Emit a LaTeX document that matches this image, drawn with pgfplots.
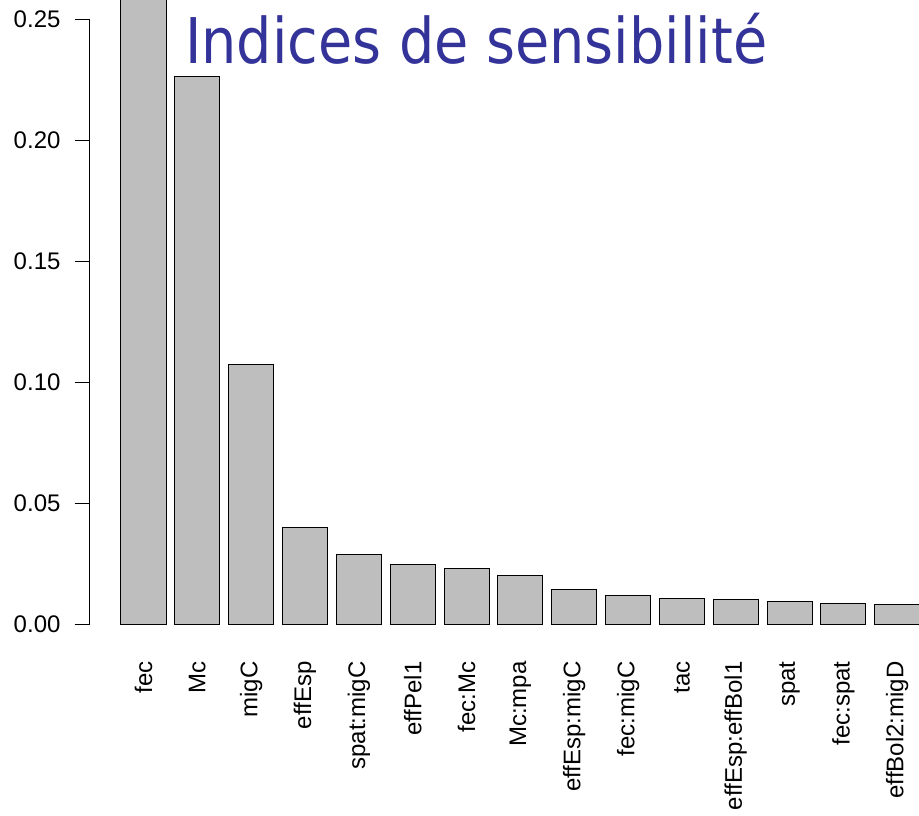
\documentclass[border=0pt]{standalone}
\usepackage{graphicx}
\usepackage{pgfplots}
\pgfplotsset{compat=1.18}
\usepackage{fontspec}
\setmainfont{Liberation Sans}
\newfontfamily\titlefont{DejaVu Sans}
\definecolor{titleblue}{HTML}{333399}
\definecolor{bargray}{HTML}{BEBEBE}
\begin{document}
\begin{tikzpicture}[x=1pt,y=1pt]
\useasboundingbox (0,0) rectangle (919,815);
\begin{axis}[
  at={(89.66pt,190.7pt)}, anchor=south west,
  scale only axis, width=861.44pt, height=605pt,
  xmin=-1, xmax=15, ymin=0, ymax=0.25,
  clip=false,
  axis y line*=left, axis x line*=bottom,
  x axis line style={draw=none},
  y axis line style={-, black, line width=1pt},
  tick align=outside, major tick length=15pt,
  ytick={0,0.05,0.1,0.15,0.2,0.25},
  ytick style={black, line width=1pt},
  /pgf/number format/assume math mode=true,
  yticklabel style={/pgf/number format/fixed,/pgf/number format/precision=2,/pgf/number format/fixed zerofill, font=\fontsize{24}{28}\selectfont, inner sep=0pt, xshift=-14pt},
  xtick={0,...,14},
  xticklabels={fec,Mc,migC,effEsp,spat:migC,effPel1,fec:Mc,Mc:mpa,effEsp:migC,fec:migC,tac,effEsp:effBol1,spat,fec:spat,effBol2:migD},
  xtick style={draw=none},
  xticklabel style={yshift=-22pt, rotate=90, anchor=east, inner sep=0pt, font=\fontsize{24}{28}\selectfont},
]
\addplot[ybar, bar width=45pt, fill=bargray, draw=black, line width=1pt] coordinates {
(0,0.30) (1,0.2264) (2,0.1074) (3,0.0399) (4,0.0290) (5,0.0249) (6,0.0229) (7,0.0200)
(8,0.0142) (9,0.0117) (10,0.0106) (11,0.0102) (12,0.0095) (13,0.0087) (14,0.0083)};
\end{axis}
\node[anchor=base west, inner sep=0pt, text=titleblue] at (185,751) {\resizebox{582pt}{\height}{\fontsize{63}{70}\selectfont\titlefont Indices de sensibilité}};
\end{tikzpicture}
\end{document}
